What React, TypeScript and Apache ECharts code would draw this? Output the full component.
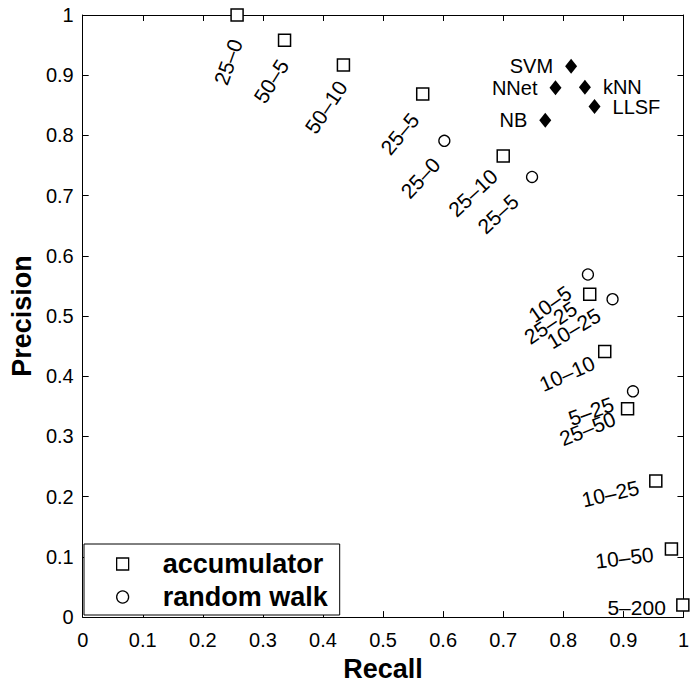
import React, { useEffect, useRef } from "react";
import * as echarts from "echarts";

// ---- data ----
const accLabels = ["25–0", "50–5", "50–10", "25–5", "25–10", "25–25", "10–10", "25–50", "10–25", "10–50", "5–200"];
const accRecall = [0.257, 0.336, 0.434, 0.566, 0.7, 0.844, 0.869, 0.907, 0.954, 0.98, 0.999];
const accPrecision = [1.0, 0.958, 0.917, 0.869, 0.766, 0.536, 0.441, 0.346, 0.226, 0.113, 0.02];

const rwLabels = ["25–0", "25–5", "10–5", "10–25", "5–25"];
const rwRecall = [0.602, 0.748, 0.841, 0.882, 0.916];
const rwPrecision = [0.791, 0.731, 0.569, 0.528, 0.375];

const clsNames = ["SVM", "kNN", "NNet", "LLSF", "NB"];
const clsRecall = [0.813, 0.836, 0.787, 0.852, 0.77];
const clsPrecision = [0.915, 0.88, 0.879, 0.848, 0.825];

// ---- label layout (pixel offset from the point, rotation in degrees) ----
const accLabelLayout = [
  [-1, 25, 70],
  [-1, 21, 58],
  [-1, 18, 56],
  [-8, 22, 50],
  [-9, 17, 43],
  [-15, 12, 34],
  [-11, 10, 24],
  [-13, 9, 22],
  [-17, 6, 13],
  [-18, 5, 7],
  [-17, 2, 0],
];
const rwLabelLayout = [
  [-8, 20, 47],
  [-17, 21, 43],
  [-19, 16, 35],
  [-14, 14, 31],
  [-20, 12, 20],
];
const clsLabelSide = ["left", "right", "left", "right", "left"];

const FONT = '"Liberation Sans", Arial, Helvetica, sans-serif';

function labelSeries(id: string, recall: number[], precision: number[], labels: string[], layout: number[][]) {
  return {
    type: "custom",
    id,
    silent: true,
    clip: false,
    z: 5,
    data: recall.map((r, i) => [r, precision[i]]),
    encode: { x: 0, y: 1 },
    renderItem: (params: any, api: any) => {
      const p = api.coord([api.value(0), api.value(1)]);
      const [dx, dy, rot] = layout[params.dataIndex];
      return {
        type: "text",
        x: p[0] + dx,
        y: p[1] + dy,
        rotation: (rot * Math.PI) / 180,
        style: {
          text: labels[params.dataIndex],
          x: 0,
          y: 0,
          align: "right",
          verticalAlign: "middle",
          font: `21px ${FONT}`,
          fill: "#000",
        },
      };
    },
  };
}

export default function App() {
  const ref = useRef<HTMLDivElement>(null);

  useEffect(() => {
    if (!ref.current) return;
    const chart = echarts.init(ref.current, undefined, { renderer: "svg" });

    const axisCommon = {
      min: 0,
      max: 1,
      interval: 0.1,
      splitLine: { show: false },
      axisLine: { show: true, onZero: false, lineStyle: { color: "#000", width: 1 } },
      axisTick: { show: true, inside: true, length: 6, lineStyle: { color: "#000", width: 1 } },
    };

    chart.setOption({
      animation: false,
      backgroundColor: "#fff",
      grid: { left: 77, top: 15, right: 5, bottom: 62, containLabel: false },
      xAxis: [
        {
          ...axisCommon,
          type: "value",
          position: "bottom",
          name: "Recall",
          nameLocation: "middle",
          nameGap: 33,
          nameTextStyle: { fontSize: 27, fontWeight: "bold", fontFamily: FONT, color: "#000" },
          axisLabel: { show: true, margin: 13, fontSize: 20, fontFamily: FONT, color: "#000" },
        },
        {
          ...axisCommon,
          type: "value",
          position: "top",
          axisLabel: { show: false },
        },
      ],
      yAxis: [
        {
          ...axisCommon,
          type: "value",
          position: "left",
          name: "Precision",
          nameLocation: "middle",
          nameGap: 31,
          nameRotate: 90,
          nameTextStyle: { fontSize: 27, fontWeight: "bold", fontFamily: FONT, color: "#000" },
          axisLabel: { show: true, margin: 9, fontSize: 20, fontFamily: FONT, color: "#000" },
        },
        {
          ...axisCommon,
          type: "value",
          position: "right",
          axisLabel: { show: false },
        },
      ],
      legend: {
        data: [
          { name: "accumulator", icon: "rect", itemStyle: { color: "#fff", borderColor: "#000", borderWidth: 1.3 } },
          { name: "random walk", icon: "circle", itemStyle: { color: "#fff", borderColor: "#000", borderWidth: 1.3 } },
        ],
        left: 84,
        top: 544,
        orient: "vertical",
        padding: [5, 12, 3, 32],
        itemGap: 3,
        itemWidth: 12,
        itemHeight: 12,
        borderColor: "#000",
        borderWidth: 1,
        borderRadius: 0,
        backgroundColor: "#fff",
        selectedMode: false,
        textStyle: {
          fontSize: 27,
          fontWeight: "bold",
          fontFamily: FONT,
          color: "#000",
          lineHeight: 30,
          padding: [0, 0, 0, 29],
        },
        z: 10,
      },
      series: [
        {
          type: "scatter",
          name: "accumulator",
          symbol: "rect",
          symbolSize: 12,
          itemStyle: { color: "#fff", borderColor: "#000", borderWidth: 1.5, opacity: 1 },
          data: accRecall.map((r, i) => [r, accPrecision[i]]),
          z: 3,
        },
        {
          type: "scatter",
          name: "random walk",
          symbol: "circle",
          symbolSize: 11,
          itemStyle: { color: "#fff", borderColor: "#000", borderWidth: 1.3, opacity: 1 },
          data: rwRecall.map((r, i) => [r, rwPrecision[i]]),
          z: 3,
        },
        {
          type: "scatter",
          name: "classifiers",
          symbol: "diamond",
          symbolSize: [12, 15],
          itemStyle: { color: "#000", opacity: 1 },
          label: {
            show: true,
            formatter: "{b}",
            distance: 12,
            fontSize: 20,
            fontFamily: FONT,
            color: "#000",
          },
          data: clsRecall.map((r, i) => ({
            name: clsNames[i],
            value: [r, clsPrecision[i]],
            label: { position: clsLabelSide[i] },
          })),
          z: 3,
        },
        labelSeries("accLabels", accRecall, accPrecision, accLabels, accLabelLayout),
        labelSeries("rwLabels", rwRecall, rwPrecision, rwLabels, rwLabelLayout),
      ],
    });

    return () => {
      chart.dispose();
    };
  }, []);

  return (
    <div
      ref={ref}
      style={{ position: "fixed", left: 0, top: 0, width: 692, height: 687, background: "#fff" }}
    />
  );
}
